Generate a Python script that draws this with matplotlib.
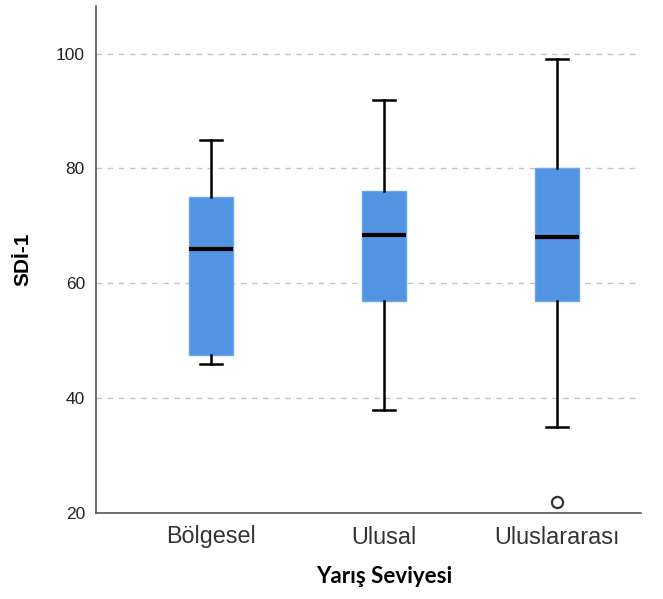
import matplotlib
matplotlib.use("Agg")
import matplotlib.pyplot as plt
from matplotlib.transforms import blended_transform_factory

# Box-plot summary per competition level
categories = ["Bölgesel", "Ulusal", "Uluslararası"]
whisker_low = [46, 38, 35]
q1 = [47.5, 57, 57]
median = [66, 68.5, 68]
q3 = [75, 76, 80]
whisker_high = [85, 92, 99]
outliers = [[], [], [22]]
y_ticks = [20, 40, 60, 80, 100]

stats = []
for i, name in enumerate(categories):
    stats.append(dict(label=name, whislo=whisker_low[i], q1=q1[i], med=median[i],
                      q3=q3[i], whishi=whisker_high[i], fliers=outliers[i]))

fig = plt.figure(figsize=(6.63, 5.99), dpi=100)
ax = fig.add_axes([96 / 663, 86 / 599, 545 / 663, 507 / 599])

box_color = "#5294e2"
ax.bxp(stats, positions=range(len(categories)), widths=0.25, patch_artist=True,
       boxprops=dict(facecolor=box_color, edgecolor="#6aa8ee", linewidth=1),
       medianprops=dict(color="black", linewidth=3, solid_capstyle="butt"),
       whiskerprops=dict(color="black", linewidth=1.8),
       capprops=dict(color="black", linewidth=1.8),
       flierprops=dict(marker="o", markerfacecolor="white", markeredgecolor="#333333",
                       markersize=8, markeredgewidth=1.6),
       capwidths=0.13, zorder=3)

ax.set_xlim(-0.665, 2.486)
ax.set_ylim(20, 108.3)
ax.set_yticks(y_ticks)
ax.yaxis.grid(True, linestyle=(0, (4, 4)), color="#c4c4c4", linewidth=1)
ax.set_axisbelow(True)

for side in ["top", "right"]:
    ax.spines[side].set_visible(False)
for side in ["left", "bottom"]:
    ax.spines[side].set_color("#555555")
    ax.spines[side].set_linewidth(1.2)

ax.tick_params(axis="both", length=0)
ax.tick_params(axis="y", pad=8, labelsize=12.5, labelcolor="#222222")
ax.tick_params(axis="x", pad=9, labelsize=16.8, labelcolor="#333333")
for lbl in ax.get_xticklabels() + ax.get_yticklabels():
    lbl.set_fontfamily("Liberation Sans")

ax.set_ylabel("SDİ-1", fontsize=15, fontweight="bold", family="Liberation Sans", labelpad=17)
ax.set_xlabel("Yarış Seviyesi", fontsize=16, fontweight="bold", family="Lato")
# centre the axis title under the middle category
ax.xaxis.set_label_coords(1, -0.105, transform=blended_transform_factory(ax.transData, ax.transAxes))

fig.savefig("out.png", dpi=100)
